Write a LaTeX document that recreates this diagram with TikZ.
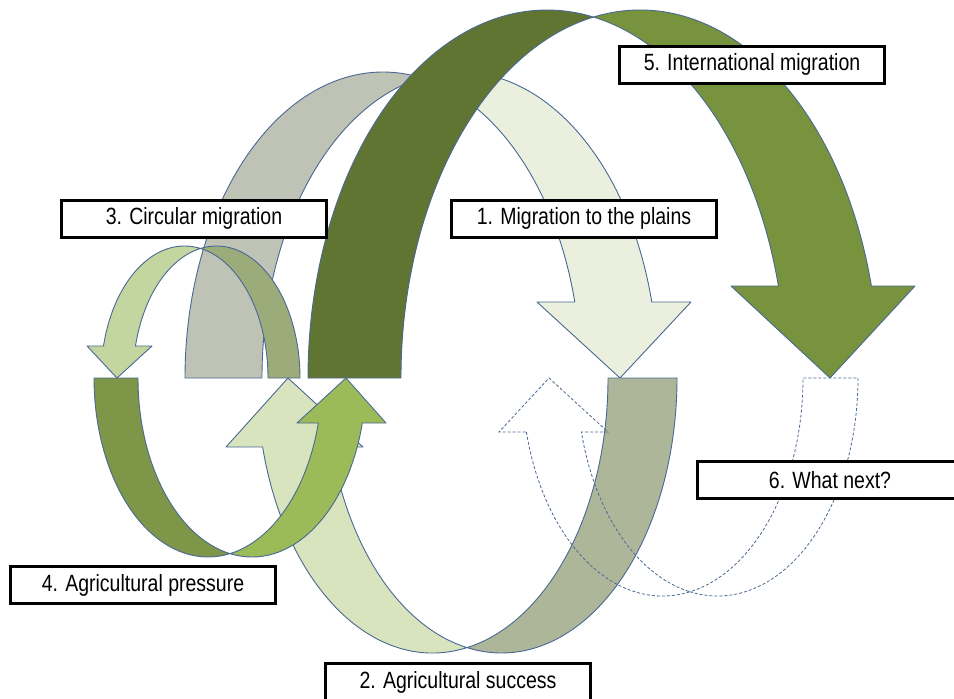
\documentclass[tikz,border=0pt]{standalone}
\usepackage{fontspec}
\setmainfont{Liberation Sans}[FakeStretch=0.83]
\definecolor{outl}{HTML}{4A6894}
\definecolor{aTail}{HTML}{BFC3B5}
\definecolor{aHead}{HTML}{EBF0DE}
\definecolor{fTail}{HTML}{617532}
\definecolor{fHead}{HTML}{77933D}
\definecolor{cHead}{HTML}{C4D6A0}
\definecolor{cTail}{HTML}{9CAB7A}
\definecolor{bHead}{HTML}{D7E4BD}
\definecolor{bTail}{HTML}{ADB699}
\definecolor{dTail}{HTML}{7E9648}
\definecolor{dHead}{HTML}{9BBB59}
\tikzset{
  shp/.style={draw=outl, line width=0.9pt, line join=round},
  dsh/.style={draw=outl, line width=0.8pt, dash pattern=on 3pt off 2pt},
  lbl/.style={draw=black, fill=white, line width=3pt, minimum width=265pt,
    minimum height=37pt, inner sep=0pt, font=\fontsize{23.5}{28}\selectfont}
}
\begin{document}
\begin{tikzpicture}[x=1pt,y=-1pt]
\clip (0,0) rectangle (954,699);
% ---- Arrow 1: migration to the plains (down, tail left, head right)
\pgfmathsetmacro\ArcA{acos(77/(2*198))}
\pgfmathsetmacro\ArcB{asin(76/306)}
\pgfmathsetmacro\ArcC{\ArcA-180}
\pgfmathsetmacro\ArcD{-\ArcA}
\pgfmathsetmacro\ArcE{-\ArcB}
\filldraw[shp, fill=aTail] ([shift={(383,378)}]-180:198 and 306)
  arc[start angle=-180, end angle=\ArcD, x radius=198, y radius=306]
  arc[start angle=\ArcC, end angle=-180, x radius=198, y radius=306] -- cycle;
\filldraw[shp, fill=aHead] ([shift={(460,378)}]\ArcE:198 and 306)
  arc[start angle=\ArcE, end angle=\ArcC, x radius=198, y radius=306]
  arc[start angle=\ArcD, end angle=\ArcE, x radius=198, y radius=306]
  -- (537,302) -- (620,378) -- (691,302) -- cycle;
% ---- Arrow 3: circular migration (down, tail right, head left)
\pgfmathsetmacro\ArcA{acos(32/(2*83.5))}
\pgfmathsetmacro\ArcB{asin(32/132)}
\pgfmathsetmacro\ArcC{\ArcA-180}
\pgfmathsetmacro\ArcD{-\ArcA}
\pgfmathsetmacro\ArcF{\ArcB-180}
\filldraw[shp, fill=cHead] ([shift={(184.5,378)}]\ArcF:83.5 and 132)
  arc[start angle=\ArcF, end angle=\ArcD, x radius=83.5, y radius=132]
  arc[start angle=\ArcC, end angle=\ArcF, x radius=83.5, y radius=132]
  -- (152,346) -- (117,378) -- (87,346) -- cycle;
\filldraw[shp, fill=cTail] ([shift={(216.5,378)}]0:83.5 and 132)
  arc[start angle=0, end angle=\ArcC, x radius=83.5, y radius=132]
  arc[start angle=\ArcD, end angle=0, x radius=83.5, y radius=132] -- cycle;
% ---- Arrow 5: international migration (down, tail left, head right)
\pgfmathsetmacro\ArcA{acos(93/(2*239))}
\pgfmathsetmacro\ArcB{asin(92/368)}
\pgfmathsetmacro\ArcC{\ArcA-180}
\pgfmathsetmacro\ArcD{-\ArcA}
\pgfmathsetmacro\ArcE{-\ArcB}
\filldraw[shp, fill=fTail] ([shift={(547,378)}]-180:239 and 368)
  arc[start angle=-180, end angle=\ArcD, x radius=239, y radius=368]
  arc[start angle=\ArcC, end angle=-180, x radius=239, y radius=368] -- cycle;
\filldraw[shp, fill=fHead] ([shift={(640,378)}]\ArcE:239 and 368)
  arc[start angle=\ArcE, end angle=\ArcC, x radius=239, y radius=368]
  arc[start angle=\ArcD, end angle=\ArcE, x radius=239, y radius=368]
  -- (731,286) -- (830,378) -- (915,286) -- cycle;
% ---- Arrow 2: agricultural success (up, head left, tail right)
\pgfmathsetmacro\ArcA{acos(69/(2*175.5))}
\pgfmathsetmacro\ArcB{asin(69/275)}
\pgfmathsetmacro\ArcG{180-\ArcA}
\pgfmathsetmacro\ArcH{180-\ArcB}
\filldraw[shp, fill=bHead] ([shift={(432.5,378)}]\ArcH:175.5 and 275)
  arc[start angle=\ArcH, end angle=\ArcA, x radius=175.5, y radius=275]
  arc[start angle=\ArcG, end angle=\ArcH, x radius=175.5, y radius=275]
  -- (363,447) -- (288,378) -- (226,447) -- cycle;
\filldraw[shp, fill=bTail] ([shift={(501.5,378)}]0:175.5 and 275)
  arc[start angle=0, end angle=\ArcG, x radius=175.5, y radius=275]
  arc[start angle=\ArcA, end angle=0, x radius=175.5, y radius=275] -- cycle;
% ---- Arrow 4: agricultural pressure (up, tail left, head right)
\pgfmathsetmacro\ArcA{acos(44/(2*114))}
\pgfmathsetmacro\ArcB{asin(45/179)}
\pgfmathsetmacro\ArcG{180-\ArcA}
\filldraw[shp, fill=dTail] ([shift={(208,378)}]180:114 and 179)
  arc[start angle=180, end angle=\ArcA, x radius=114, y radius=179]
  arc[start angle=\ArcG, end angle=180, x radius=114, y radius=179] -- cycle;
\filldraw[shp, fill=dHead] ([shift={(252,378)}]\ArcB:114 and 179)
  arc[start angle=\ArcB, end angle=\ArcG, x radius=114, y radius=179]
  arc[start angle=\ArcA, end angle=\ArcB, x radius=114, y radius=179]
  -- (297,423) -- (346,378) -- (386,423) -- cycle;
% ---- Arrow 6: what next? (up, dashed, head left, tail right)
\pgfmathsetmacro\ArcA{acos(55/(2*140.5))}
\pgfmathsetmacro\ArcB{asin(54/218)}
\pgfmathsetmacro\ArcG{180-\ArcA}
\pgfmathsetmacro\ArcH{180-\ArcB}
\draw[dsh] ([shift={(662.5,378)}]\ArcH:140.5 and 218)
  arc[start angle=\ArcH, end angle=\ArcA, x radius=140.5, y radius=218]
  arc[start angle=\ArcG, end angle=\ArcH, x radius=140.5, y radius=218]
  -- (608,432) -- (549,378) -- (499,432) -- cycle;
\draw[dsh] ([shift={(717.5,378)}]0:140.5 and 218)
  arc[start angle=0, end angle=\ArcG, x radius=140.5, y radius=218]
  arc[start angle=\ArcA, end angle=0, x radius=140.5, y radius=218] -- cycle;
% ---- Labels
\node[lbl] (b5) at (752,64.5) {5. International migration};
\node[lbl] (b3) at (194,218.5) {3. Circular migration};
\node[lbl] (b1) at (584,218.5) {1. Migration to the plains};
\node[lbl] (b6) at (830,480) {6. What next?};
\node[lbl] (b4) at (143,585) {4. Agricultural pressure};
\node[lbl] (b2) at (458,682) {2. Agricultural success};
\end{tikzpicture}
\end{document}
